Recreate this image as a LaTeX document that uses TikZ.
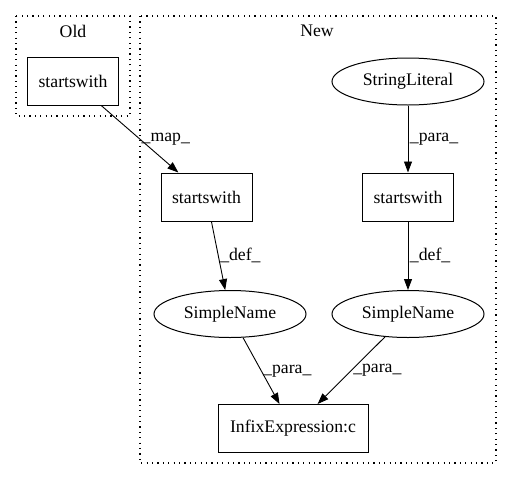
\documentclass[tikz,border=0pt]{standalone}
\usepackage{fontspec}
\setmainfont{Liberation Serif}
\usetikzlibrary{arrows.meta,shapes.geometric}

\tikzset{
  box/.style={draw, line width=1pt, rectangle, minimum width=91pt, minimum height=48pt, inner sep=2pt},
  oval/.style={draw, line width=1pt, ellipse, minimum width=152pt, minimum height=47pt, inner sep=1pt},
  cluster/.style={draw, line width=1.1pt, dash pattern=on 1.2pt off 4.2pt},
  edge/.style={-{Triangle[length=11pt,width=8pt]}, line width=0.9pt},
  lbl/.style={midway, right, inner sep=1.5pt}
}

\begin{document}
\begin{tikzpicture}[x=1pt, y=-1pt, font=\fontsize{17.7}{20}\selectfont]
\useasboundingbox (0,0) rectangle (512,480);

\draw[cluster] (16,16) rectangle (130,116);
\draw[cluster] (140,16) rectangle (496,463);
\node (oldlabel) at (73,31) {Old};
\node (newlabel) at (317,31) {New};

\node[box] (old) at (73,81) {startswith};
\node[oval] (lit) at (408,81.5) {StringLiteral};
\node[box] (s1) at (206.5,197) {startswith};
\node[box] (s2) at (408,197) {startswith};
\node[oval] (n1) at (230,314) {SimpleName};
\node[oval] (n2) at (408,314) {SimpleName};
\node[box, minimum width=150pt] (infix) at (293,428.5) {InfixExpression:c};

\draw[edge] (old) -- (s1) node[lbl] {\_map\_};
\draw[edge] (lit) -- (s2) node[lbl] {\_para\_};
\draw[edge] (s1) -- (n1) node[lbl] {\_def\_};
\draw[edge] (s2) -- (n2) node[lbl] {\_def\_};
\draw[edge] (n1) -- (infix) node[lbl] {\_para\_};
\draw[edge] (n2) -- (infix) node[lbl] {\_para\_};
\end{tikzpicture}
\end{document}
